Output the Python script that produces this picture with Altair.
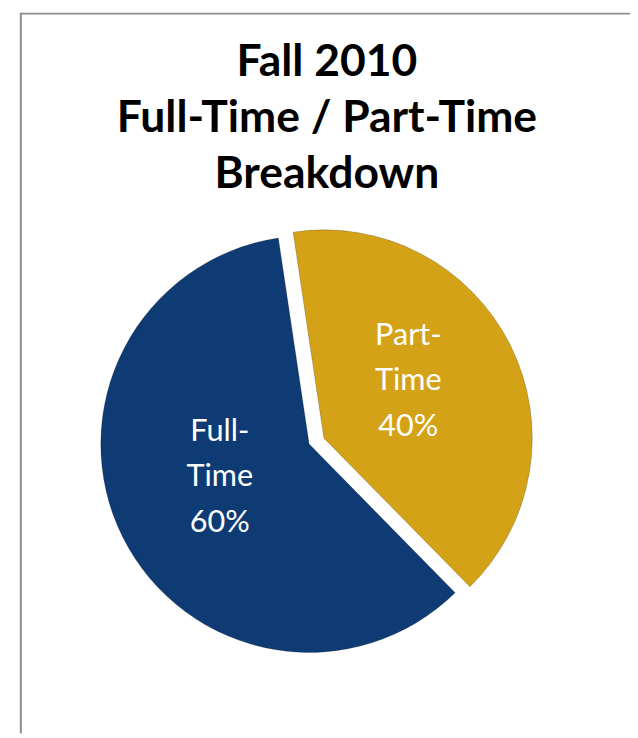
import math
import altair as alt
import pandas as pd

# ---- data ----
categories = ["Part-Time", "Full-Time"]
values = [40, 60]
colors = ["#d4a216", "#0f3b75"]
title_lines = ["Fall 2010", "Full-Time / Part-Time", "Breakdown"]

total = sum(values)
rows = []
acc = 0
for c, v in zip(categories, values):
    rows.append({
        "category": c,
        "value": v,
        "start": acc,
        "end": acc + v,
        "mid": acc + v / 2,
        "label": c.replace("-", "-\n") + "\n" + f"{round(100 * v / total)}%",
    })
    acc += v
df = pd.DataFrame(rows)

W, H = 630, 730
start_rad = 2 * math.pi - math.radians(8.5)
theta_scale = alt.Scale(domain=[0, total], range=[start_rad, start_rad + 2 * math.pi])
color_scale = alt.Scale(domain=categories, range=colors)

R = 211
centers = {"Full-Time": (305, 437), "Part-Time": (320, 431)}

base = alt.Chart(df)

layers = []

# frame lines
frame_df = pd.DataFrame({"k": [0]})
layers.append(alt.Chart(frame_df).mark_rule(color="#8c8c8c", strokeWidth=2).encode(
    x=alt.value(13), y=alt.value(0), y2=alt.value(H)))
layers.append(alt.Chart(frame_df).mark_rule(color="#8c8c8c", strokeWidth=2).encode(
    x=alt.value(13), x2=alt.value(W), y=alt.value(1)))

for cat in categories:
    cx, cy = centers[cat]
    layers.append(
        base.transform_filter(alt.datum.category == cat).mark_arc(radius=R, stroke="#00000033", strokeWidth=1).encode(
            theta=alt.Theta("start:Q", scale=theta_scale),
            theta2="end:Q",
            color=alt.Color("category:N", scale=color_scale, legend=None),
            x=alt.value(cx),
            y=alt.value(cy),
        )
    )

label_adj = {"Full-Time": (-1, -57), "Part-Time": (-4, -59)}
for cat in categories:
    cx, cy = centers[cat]
    ddx, ddy = label_adj[cat]
    layers.append(
        base.transform_filter(alt.datum.category == cat).mark_text(
            radius=100, font="Lato", fontSize=31, color="white", lineBreak="\n",
            lineHeight=46, align="center", baseline="middle", dx=ddx, dy=ddy,
        ).encode(
            theta=alt.Theta("mid:Q", scale=theta_scale),
            text="label:N",
            x=alt.value(cx),
            y=alt.value(cy),
        )
    )

title_df = pd.DataFrame({"t": ["\n".join(title_lines)]})
layers.append(
    alt.Chart(title_df).mark_text(
        font="Lato", fontSize=45, fontWeight="bold", color="black", lineBreak="\n",
        lineHeight=57, align="center", baseline="alphabetic",
    ).encode(text="t:N", x=alt.value(323), y=alt.value(64))
)

chart = alt.layer(*layers).properties(
    width=W, height=H, autosize=alt.AutoSizeParams(type="none"), padding=0
).configure_view(stroke=None)

chart.save("out.html", embed_options={"renderer": "svg", "actions": False})
